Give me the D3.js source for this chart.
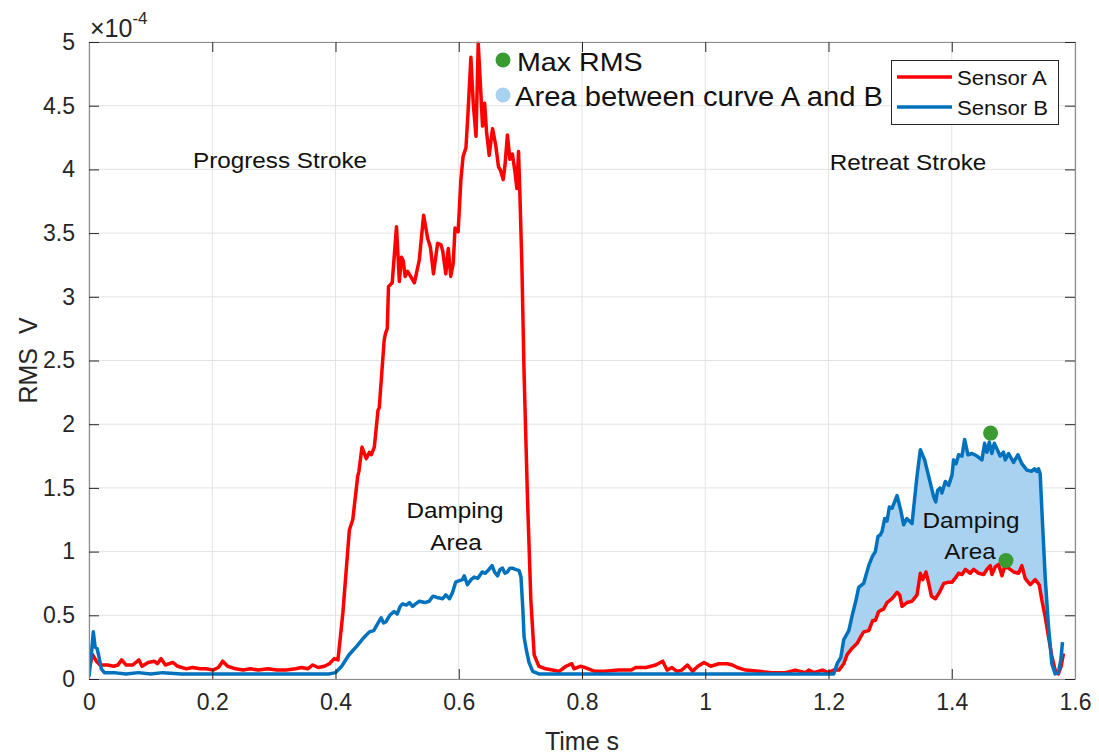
<!DOCTYPE html>
<html>
<head>
<meta charset="utf-8">
<script src="https://cdn.jsdelivr.net/npm/d3@7"></script>
<style>
  html, body { margin: 0; padding: 0; background: #fff; }
  svg { display: block; }
  text { font-family: "Liberation Sans", Arial, Helvetica, sans-serif; }
</style>
</head>
<body>
<svg id="chart" width="1099" height="755"></svg>
<script>
// ---- Data (values in units of 1e-4 V) ----
const sensorA_t = [0.000,0.006,0.012,0.018,0.030,0.040,0.047,0.053,0.060,0.071,0.081,0.086,0.096,0.106,0.111,0.117,0.124,0.136,0.144,0.158,0.168,0.180,0.190,0.201,0.210,0.217,0.225,0.238,0.250,0.262,0.275,0.290,0.305,0.320,0.335,0.345,0.355,0.363,0.372,0.382,0.390,0.398,0.404,0.412,0.4225,0.428,0.436,0.438,0.443,0.450,0.455,0.458,0.463,0.469,0.471,0.479,0.481,0.484,0.486,0.492,0.499,0.5036,0.507,0.510,0.513,0.517,0.523,0.528,0.536,0.543,0.5495,0.554,0.559,0.5657,0.571,0.574,0.579,0.583,0.587,0.591,0.594,0.599,0.6035,0.607,0.6117,0.615,0.6197,0.6235,0.628,0.6316,0.635,0.6386,0.642,0.645,0.6494,0.6548,0.660,0.6645,0.668,0.6721,0.675,0.679,0.683,0.687,0.691,0.6943,0.697,0.699,0.7024,0.706,0.7116,0.717,0.7224,0.730,0.741,0.752,0.763,0.774,0.7835,0.787,0.797,0.805,0.821,0.837,0.859,0.880,0.887,0.904,0.9196,0.931,0.938,0.946,0.954,0.962,0.971,0.9795,0.988,0.998,1.009,1.022,1.036,1.044,1.052,1.0655,1.087,1.109,1.130,1.146,1.163,1.168,1.176,1.190,1.200,1.2085,1.217,1.2248,1.230,1.238,1.2465,1.252,1.2572,1.2653,1.2718,1.2761,1.2815,1.2896,1.295,1.303,1.3112,1.3155,1.3193,1.3274,1.3355,1.3436,1.349,1.353,1.3582,1.3626,1.367,1.3734,1.380,1.387,1.395,1.4004,1.407,1.4112,1.4166,1.422,1.4301,1.4355,1.4436,1.4517,1.457,1.4625,1.4652,1.4706,1.476,1.4814,1.4857,1.4922,1.5003,1.5084,1.5138,1.5192,1.5273,1.5354,1.5419,1.5462,1.5516,1.557,1.5624,1.5678,1.573,1.5776,1.5813];
const sensorA_v = [0.08,0.19,0.14,0.11,0.11,0.10,0.11,0.15,0.11,0.11,0.15,0.10,0.13,0.14,0.12,0.16,0.11,0.13,0.10,0.08,0.09,0.08,0.08,0.07,0.09,0.14,0.10,0.08,0.07,0.08,0.07,0.08,0.07,0.07,0.08,0.09,0.08,0.11,0.09,0.10,0.12,0.16,0.15,0.52,1.17,1.25,1.59,1.63,1.82,1.73,1.78,1.76,1.82,2.11,2.13,2.66,2.71,2.75,3.08,3.11,3.55,3.12,3.31,3.28,3.16,3.20,3.15,3.11,3.29,3.64,3.46,3.39,3.18,3.42,3.41,3.36,3.18,3.38,3.16,3.26,3.54,3.51,3.92,4.10,4.17,4.44,4.88,4.52,4.26,4.99,4.68,4.34,4.52,4.30,4.11,4.32,4.19,4.02,3.99,3.92,4.03,4.27,4.08,4.12,3.99,3.85,4.14,3.84,3.26,2.40,1.41,0.62,0.19,0.10,0.08,0.07,0.06,0.10,0.12,0.08,0.10,0.09,0.06,0.06,0.07,0.07,0.09,0.09,0.11,0.14,0.07,0.09,0.06,0.07,0.11,0.06,0.10,0.13,0.10,0.12,0.12,0.11,0.09,0.07,0.06,0.05,0.05,0.07,0.05,0.07,0.05,0.07,0.05,0.07,0.07,0.12,0.19,0.24,0.28,0.33,0.37,0.38,0.46,0.46,0.53,0.55,0.60,0.63,0.68,0.66,0.57,0.60,0.61,0.66,0.83,0.78,0.84,0.75,0.65,0.63,0.68,0.75,0.76,0.76,0.80,0.83,0.82,0.86,0.83,0.86,0.83,0.82,0.86,0.89,0.82,0.88,0.90,0.81,0.88,0.87,0.84,0.83,0.89,0.79,0.74,0.78,0.74,0.62,0.49,0.33,0.18,0.07,0.04,0.10,0.20];

const sensorB_t = [0.000,0.004,0.007,0.010,0.013,0.016,0.020,0.025,0.040,0.060,0.080,0.100,0.120,0.150,0.200,0.250,0.300,0.350,0.390,0.400,0.410,0.422,0.435,0.445,0.455,0.462,0.468,0.474,0.478,0.482,0.488,0.495,0.500,0.505,0.509,0.515,0.520,0.525,0.530,0.536,0.545,0.552,0.558,0.565,0.574,0.579,0.585,0.590,0.595,0.600,0.606,0.609,0.614,0.620,0.625,0.631,0.638,0.643,0.649,0.654,0.658,0.663,0.667,0.671,0.675,0.679,0.683,0.687,0.692,0.698,0.701,0.704,0.706,0.710,0.714,0.720,0.730,0.800,0.900,1.000,1.100,1.2085,1.214,1.220,1.2248,1.233,1.238,1.2447,1.249,1.257,1.2653,1.271,1.276,1.2804,1.284,1.287,1.2913,1.295,1.2988,1.303,1.3112,1.317,1.322,1.327,1.3355,1.3436,1.349,1.356,1.3626,1.3707,1.374,1.377,1.381,1.384,1.3896,1.395,1.4004,1.403,1.407,1.4112,1.4166,1.4209,1.4263,1.433,1.441,1.449,1.4533,1.457,1.461,1.465,1.469,1.473,1.4785,1.484,1.4868,1.4922,1.5003,1.5073,1.5138,1.5219,1.530,1.5343,1.538,1.5408,1.5435,1.5462,1.5516,1.557,1.5624,1.5678,1.573,1.577,1.5797];
const sensorB_v = [0.02,0.20,0.37,0.25,0.24,0.18,0.08,0.05,0.05,0.04,0.05,0.04,0.05,0.04,0.04,0.04,0.04,0.04,0.04,0.05,0.10,0.19,0.26,0.32,0.37,0.38,0.43,0.48,0.44,0.45,0.50,0.53,0.51,0.57,0.59,0.58,0.60,0.57,0.59,0.61,0.60,0.61,0.65,0.64,0.63,0.66,0.63,0.68,0.76,0.77,0.78,0.81,0.74,0.78,0.80,0.79,0.84,0.83,0.86,0.89,0.84,0.81,0.86,0.87,0.83,0.84,0.87,0.87,0.86,0.85,0.80,0.55,0.33,0.22,0.13,0.06,0.04,0.04,0.04,0.04,0.04,0.04,0.12,0.17,0.31,0.38,0.49,0.62,0.72,0.75,0.89,0.96,1.00,1.12,1.13,1.16,1.26,1.24,1.35,1.34,1.44,1.33,1.21,1.26,1.22,1.59,1.80,1.72,1.59,1.43,1.39,1.48,1.50,1.46,1.55,1.52,1.60,1.72,1.69,1.76,1.75,1.88,1.76,1.77,1.75,1.72,1.85,1.78,1.86,1.77,1.85,1.81,1.75,1.78,1.72,1.77,1.70,1.76,1.69,1.64,1.63,1.65,1.63,1.65,1.61,1.33,0.80,0.41,0.12,0.04,0.05,0.15,0.29];

const maxRMS_t = [1.463, 1.488];
const maxRMS_v = [1.93, 0.93];

const dampingRange = [1.2085, 1.5797];

const xTicks = [0, 0.2, 0.4, 0.6, 0.8, 1, 1.2, 1.4, 1.6];
const xTickLabels = ["0", "0.2", "0.4", "0.6", "0.8", "1", "1.2", "1.4", "1.6"];
const yTicks = [0, 0.5, 1, 1.5, 2, 2.5, 3, 3.5, 4, 4.5, 5];
const yTickLabels = ["0", "0.5", "1", "1.5", "2", "2.5", "3", "3.5", "4", "4.5", "5"];

const seriesNames = ["Sensor A", "Sensor B"];
const seriesColors = ["#ff0000", "#0072bd"];

// ---- Layout ----
const L = 89, R = 1075, T = 42, B = 679;
const svg = d3.select("#chart");
const x = d3.scaleLinear().domain([0, 1.6]).range([L, R]);
const y = d3.scaleLinear().domain([0, 5]).range([B, T]);

const axisColor = "#8c8c8c";
const textColor = "#262626";
const SX = 1.08; // horizontal stretch of text

function stext(g, str, xx, yy, size, anchor, color) {
  return g.append("text")
    .attr("transform", `translate(${xx},${yy}) scale(${SX},1)`)
    .attr("text-anchor", anchor || "start")
    .attr("font-size", size)
    .attr("fill", color || "#000")
    .text(str);
}

// Grid
const grid = svg.append("g");
xTicks.forEach(t => grid.append("line")
  .attr("x1", x(t)).attr("x2", x(t)).attr("y1", T).attr("y2", B)
  .attr("stroke", "#e3e3e3").attr("stroke-width", 1));
yTicks.forEach(t => grid.append("line")
  .attr("x1", L).attr("x2", R).attr("y1", y(t)).attr("y2", y(t))
  .attr("stroke", "#e3e3e3").attr("stroke-width", 1));

// Clip
svg.append("clipPath").attr("id", "clip")
  .append("rect").attr("x", L).attr("y", T - 2).attr("width", R - L).attr("height", B - T + 2);

const plot = svg.append("g").attr("clip-path", "url(#clip)");

const A = sensorA_t.map((t, i) => [t, sensorA_v[i]]);
const Bd = sensorB_t.map((t, i) => [t, sensorB_v[i]]);

// Damping area fill between curves
const upper = Bd.filter(d => d[0] >= dampingRange[0] && d[0] <= dampingRange[1]);
const lower = A.filter(d => d[0] >= dampingRange[0] && d[0] <= dampingRange[1] + 0.002).reverse();
const poly = upper.concat(lower);
plot.append("path")
  .attr("d", d3.line().x(d => x(d[0])).y(d => y(d[1]))(poly) + "Z")
  .attr("fill", "#a8d2f0").attr("stroke", "none");

const line = d3.line().x(d => x(d[0])).y(d => y(d[1]));
plot.append("path").attr("d", line(A)).attr("fill", "none")
  .attr("stroke", seriesColors[0]).attr("stroke-width", 3.5).attr("stroke-linejoin", "round");
plot.append("path").attr("d", line(Bd)).attr("fill", "none")
  .attr("stroke", seriesColors[1]).attr("stroke-width", 3.5).attr("stroke-linejoin", "round");

// Max markers
maxRMS_t.forEach((t, i) => svg.append("circle")
  .attr("cx", x(t)).attr("cy", y(maxRMS_v[i])).attr("r", 7.5).attr("fill", "#3a9b32"));

// Axes (box with inward ticks)
const xAxisB = d3.axisBottom(x).tickValues(xTicks).tickFormat((d, i) => xTickLabels[i]).tickSizeInner(-10).tickSizeOuter(0).tickPadding(15);
const xAxisT = d3.axisTop(x).tickValues(xTicks).tickFormat("").tickSizeInner(-10).tickSizeOuter(0);
const yAxisL = d3.axisLeft(y).tickValues(yTicks).tickFormat((d, i) => yTickLabels[i]).tickSizeInner(-10).tickSizeOuter(0).tickPadding(14);
const yAxisR = d3.axisRight(y).tickValues(yTicks).tickFormat("").tickSizeInner(-10).tickSizeOuter(0);

function styleAxis(g, size) {
  g.selectAll("path").attr("stroke", axisColor).attr("stroke-width", 1.2);
  g.selectAll("line").attr("stroke", "#262626").attr("stroke-width", 1);
  g.selectAll("text").attr("font-size", size).attr("fill", textColor)
    .attr("font-family", "'Liberation Sans', Arial, sans-serif");
}
svg.append("g").attr("transform", `translate(0,${B})`).call(xAxisB).call(g => styleAxis(g, 23));
svg.append("g").attr("transform", `translate(0,${T})`).call(xAxisT).call(g => styleAxis(g, 23));
svg.append("g").attr("transform", `translate(${L},0)`).call(yAxisL).call(g => styleAxis(g, 23));
svg.append("g").attr("transform", `translate(${R},0)`).call(yAxisR).call(g => styleAxis(g, 23));

// Axis labels
svg.append("text").attr("x", (L + R) / 2).attr("y", 750).attr("text-anchor", "middle")
  .attr("font-size", 25).attr("fill", textColor).text("Time s");
svg.append("text").attr("transform", `translate(37,${(T + B) / 2}) rotate(-90)`)
  .attr("text-anchor", "middle").attr("font-size", 25).attr("fill", textColor)
  .text("RMS\u00a0\u00a0V");

// Exponent
const ex = svg.append("text").attr("x", 90).attr("y", 37).attr("font-size", 25).attr("fill", textColor);
ex.append("tspan").text("\u00d710");
ex.append("tspan").attr("font-size", 17).attr("dy", -13).text("-4");

// Annotations
const ann = svg.append("g");
stext(ann, "Progress Stroke", 280, 168, 22.5, "middle", "#111");
stext(ann, "Retreat Stroke", 908, 170, 22.5, "middle", "#111");
stext(ann, "Damping", 455, 518, 22.5, "middle", "#111");
stext(ann, "Area", 456, 550, 22.5, "middle", "#111");
stext(ann, "Damping", 971, 528, 22.5, "middle", "#111");
stext(ann, "Area", 970, 559, 22.5, "middle", "#111");

// Marker legend (top)
svg.append("circle").attr("cx", 503).attr("cy", 60).attr("r", 7.5).attr("fill", "#3a9b32");
stext(svg, "Max RMS", 517, 71, 26.5, "start", "#111");
svg.append("circle").attr("cx", 503).attr("cy", 95).attr("r", 7.5).attr("fill", "#a8d2f0");
stext(svg, "Area between curve A and B", 515, 106, 27, "start", "#111");

// Series legend box
const lg = svg.append("g");
lg.append("rect").attr("x", 891.5).attr("y", 60.5).attr("width", 167).attr("height", 64)
  .attr("fill", "#fff").attr("stroke", "#262626").attr("stroke-width", 1);
seriesNames.forEach((n, i) => {
  const yy = 77 + i * 30;
  lg.append("line").attr("x1", 897).attr("x2", 952).attr("y1", yy).attr("y2", yy)
    .attr("stroke", seriesColors[i]).attr("stroke-width", 3.5);
  stext(lg, n, 957, yy + 8, 20.5, "start", "#111");
});
</script>
</body>
</html>
